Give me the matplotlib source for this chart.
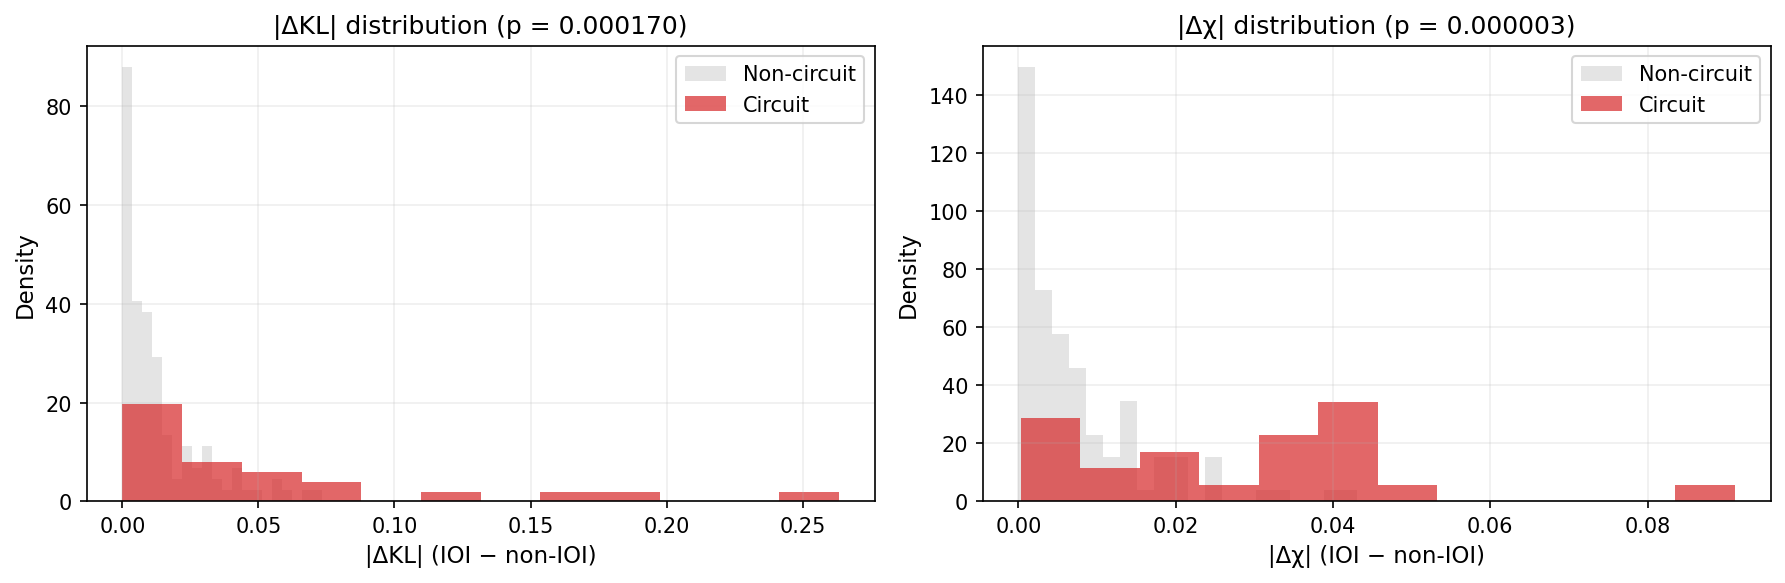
import numpy as np
import matplotlib
matplotlib.use("Agg")
import matplotlib.pyplot as plt

# |dKL| panel: densities per bin
kl_noncirc_range = (0.0, 0.0733)
kl_noncirc_density = [87.9, 40.6, 38.3, 29.3, 13.5, 4.5, 11.3, 6.8, 11.3, 4.5,
                      2.3, 6.8, 2.3, 2.3, 0.0, 4.5, 2.3, 0.0, 2.3, 2.3]
kl_circ_range = (0.0, 0.2633)
kl_circ_density = [19.8, 7.9, 5.9, 4.0, 0.0, 2.0, 0.0, 2.0, 2.0, 0.0, 0.0, 2.0]
kl_p = 0.000170

# |dchi| panel
chi_noncirc_range = (0.0, 0.0431)
chi_noncirc_density = [149.4, 72.8, 57.5, 46.0, 23.0, 15.3, 34.5, 3.8, 15.3, 15.3,
                       0.0, 15.3, 0.0, 0.0, 3.8, 3.8, 0.0, 0.0, 3.8, 3.8]
chi_circ_range = (0.0003, 0.0911)
chi_circ_density = [28.7, 11.5, 17.2, 5.7, 22.9, 34.4, 5.7, 0.0, 0.0, 0.0, 0.0, 5.7]
chi_p = 0.000003

panels = [
    ("|ΔKL|", kl_p, kl_noncirc_range, kl_noncirc_density, kl_circ_range, kl_circ_density),
    ("|Δχ|", chi_p, chi_noncirc_range, chi_noncirc_density, chi_circ_range, chi_circ_density),
]

fig, axes = plt.subplots(1, 2, figsize=(11.9, 3.893), dpi=150)
fig.subplots_adjust(left=0.0485, right=0.992, bottom=0.1396, top=0.92, wspace=0.137)

for ax, (name, p, nc_rng, nc_dens, c_rng, c_dens) in zip(axes, panels):
    nc_edges = np.linspace(nc_rng[0], nc_rng[1], len(nc_dens) + 1)
    c_edges = np.linspace(c_rng[0], c_rng[1], len(c_dens) + 1)
    ax.hist(nc_edges[:-1], bins=nc_edges, weights=nc_dens,
            color="lightgray", alpha=0.6, label="Non-circuit")
    ax.hist(c_edges[:-1], bins=c_edges, weights=c_dens,
            color="#d62728", alpha=0.7, label="Circuit")
    ax.set_title(f"{name} distribution (p = {p:.6f})", fontsize=12)
    ax.set_xlabel(f"{name} (IOI − non-IOI)", fontsize=11)
    ax.set_ylabel("Density", fontsize=11)
    ax.legend(loc="upper right")
    ax.grid(alpha=0.2)

fig.savefig("out.png", dpi=150)
